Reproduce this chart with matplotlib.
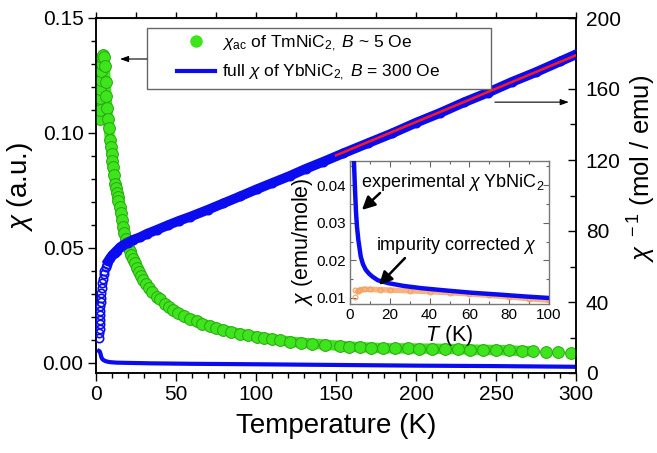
import numpy as np
import matplotlib
matplotlib.use("Agg")
import matplotlib.pyplot as plt
from matplotlib.lines import Line2D
from matplotlib.patches import Rectangle
from matplotlib.ticker import MultipleLocator

plt.rcParams['font.family'] = ['Liberation Sans', 'DejaVu Sans']
plt.rcParams['mathtext.fontset'] = 'custom'
plt.rcParams['mathtext.rm'] = 'Liberation Sans'
plt.rcParams['mathtext.it'] = 'Liberation Sans:italic'
plt.rcParams['mathtext.bf'] = 'Liberation Sans:bold'

# ---- data: chi_ac of TmNiC2 (left axis, a.u.)
T_ac = [2.4, 2.5, 2.6, 2.8, 3.0, 3.3, 3.6, 4.0, 4.5, 5.0, 5.5, 6.0, 6.5, 7.0, 7.5, 8.0,
        8.75, 9.3, 9.8, 10.3, 10.8, 11.4, 12.0, 12.5, 13.0, 13.5, 14.0, 14.7, 15.5, 16.2,
        17.0, 17.7, 18.5, 19.2, 20.0, 21.0, 22.0, 23.2, 24.4, 25.7, 27.0, 28.3, 29.6,
        31.0, 33.0, 35.0, 37.9, 40.0, 43.0, 45.5, 48.3, 51.0, 55.0, 58.5, 62.9, 66.5,
        71.0, 75.0, 79.6, 84.5, 90.0, 95.0, 100.4, 105.0, 110.0, 115.0, 121.0, 128.0,
        135.0, 143.0, 152.5, 158.0, 165.0, 172.0, 179.6, 187.0, 195.0, 202.0, 210.0,
        218.0, 226.0, 234.0, 242.0, 250.0, 258.0, 266.0, 273.0, 281.0, 289.0, 297.0]
chi_ac = [0.106, 0.110, 0.115, 0.119, 0.123, 0.127, 0.130, 0.133, 0.134, 0.133, 0.129,
          0.122, 0.116, 0.111, 0.106, 0.102, 0.097, 0.094, 0.091, 0.088, 0.085, 0.0815,
          0.078, 0.076, 0.074, 0.072, 0.0705, 0.068, 0.065, 0.062, 0.059, 0.0565, 0.054,
          0.052, 0.0505, 0.0487, 0.047, 0.045, 0.0433, 0.0413, 0.0395, 0.0377, 0.0361,
          0.0345, 0.0325, 0.0310, 0.0288, 0.0276, 0.0258, 0.0244, 0.0230, 0.0219, 0.0205,
          0.0193, 0.0180, 0.0171, 0.0160, 0.0151, 0.0143, 0.0135, 0.0127, 0.0120, 0.0114,
          0.0108, 0.0103, 0.0098, 0.0093, 0.0088, 0.0084, 0.0079, 0.0074, 0.0071, 0.0069,
          0.0066, 0.0064, 0.0063, 0.0063, 0.0062, 0.0062, 0.0061, 0.0060, 0.0058, 0.0057,
          0.0056, 0.0054, 0.0052, 0.0050, 0.0047, 0.0046, 0.0042]

# ---- data: full chi of YbNiC2 (left axis)
T_full = [1.8, 2.3, 2.8, 3.3, 3.8, 4.5, 5.5, 6.7, 9.0, 13.0, 20.0, 35.0, 60.0, 100.0,
          150.0, 200.0, 250.0, 300.0]
chi_full = [0.0052, 0.0050, 0.0040, 0.0026, 0.0018, 0.0013, 0.0009, 0.0006, 0.0003,
            0.0001, 0.0, -0.0002, -0.0004, -0.0006, -0.0009, -0.0012, -0.0014, -0.0017]

# ---- data: inverse chi of YbNiC2 (right axis, mol/emu)
T_inv = [2.0, 2.1, 2.2, 2.3, 2.4, 2.5, 2.6, 2.7, 2.85, 3.0, 3.2, 3.5, 3.8, 4.2, 4.7, 5.3,
         6.0, 6.8, 7.8, 9.0, 10.3, 11.7, 13.0, 15.0, 17.0, 20.0, 23.0, 27.5, 32.0, 37.9,
         45.0, 52.0, 58.75, 70.0, 79.6, 90.0, 100.4, 110.0, 121.0, 131.0, 142.0, 154.6,
         170.0, 185.0, 200.0, 215.0, 230.0, 245.0, 260.0, 275.0, 290.0, 300.0]
inv_chi = [20.0, 22.5, 25.0, 27.5, 30.0, 32.5, 35.0, 37.5, 40.0, 42.5, 45.0, 48.0, 50.5,
           53.0, 55.5, 57.5, 59.5, 61.5, 63.3, 65.0, 66.5, 67.8, 69.0, 70.8, 72.1, 73.5,
           75.0, 76.5, 78.5, 80.6, 83.3, 85.8, 88.0, 92.0, 95.6, 99.5, 103.5, 107.0,
           111.0, 115.0, 119.0, 123.8, 129.5, 135.0, 141.0, 146.5, 152.5, 158.0, 164.0,
           169.5, 175.5, 179.5]

# ---- data: linear (Curie-Weiss) fit
T_fit = [150.0, 300.0]
inv_fit = [122.6, 179.0]

# ---- inset data
T_exp = [2.0, 2.5, 3.0, 3.5, 4.2, 5.4, 6.5, 7.9, 9.5, 11.2, 14.0, 19.6, 27.0, 36.0, 48.0,
         61.0, 75.0, 88.0, 100.0]
chi_exp = [0.0460, 0.0390, 0.0330, 0.0290, 0.0254, 0.0210, 0.0190, 0.0175, 0.0165,
           0.0157, 0.0147, 0.0139, 0.0132, 0.0126, 0.0120, 0.0114, 0.0109, 0.0104, 0.0100]
T_cor = [2.5, 2.5, 4.0, 5.0, 7.0, 10.0, 15.0, 20.0, 30.0, 40.0, 50.0, 60.0, 70.0, 80.0,
         90.0, 100.0]
chi_cor = [0.0102, 0.0121, 0.0118, 0.0122, 0.0123, 0.0123, 0.0122, 0.0121, 0.0119,
           0.0117, 0.0114, 0.0111, 0.0107, 0.0103, 0.0098, 0.0094]

GREEN = '#3ee41c'
GREEN_E = '#2aa812'
BLUE = '#0b0bf0'
RED = '#ff1a1a'
ORANGE = '#f8b47e'
ORANGE_E = '#f3a062'

W, H = 657, 453
fig = plt.figure(figsize=(W / 100, H / 100), dpi=100)
ax = fig.add_axes([96 / W, 1 - 373 / H, 480 / W, 355 / H])
ax2 = ax.twinx()

# green chi_ac
ax.plot(T_ac[:-3], chi_ac[:-3], '-', color=GREEN, lw=7.5, zorder=2, solid_capstyle='round')
ax.plot(T_ac, chi_ac, 'o', ms=8.5, mfc=GREEN, mec=GREEN_E, mew=0.7, zorder=3)
# blue full chi
ax.plot(T_full, chi_full, '-', color=BLUE, lw=3, zorder=4)

ax.set_xlim(0, 300)
ax.set_ylim(-0.0044, 0.15)
ax.xaxis.set_major_locator(MultipleLocator(50))
ax.xaxis.set_minor_locator(MultipleLocator(10))
ax.yaxis.set_major_locator(MultipleLocator(0.05))
ax.yaxis.set_minor_locator(MultipleLocator(0.01))
ax.yaxis.set_major_formatter(matplotlib.ticker.FormatStrFormatter('%.2f'))
ax.tick_params(which='both', direction='out', labelsize=15, width=1, top=False, right=False)
ax.tick_params(which='major', length=6, pad=3)
ax.tick_params(which='minor', length=3.5)
for s in ax.spines.values():
    s.set_linewidth(1.1)

sec = ax.secondary_xaxis('top')
sec.xaxis.set_major_locator(MultipleLocator(25))
sec.tick_params(which='major', direction='out', length=4, width=1, labeltop=False)
sec.xaxis.set_minor_locator(matplotlib.ticker.NullLocator())

# inverse chi (right axis)
Ti = np.array(T_inv)
vi = np.array(inv_chi)
hi = Ti >= 7.8
ax2.plot(Ti[hi], vi[hi], '-', color=BLUE, lw=7, zorder=2)
ax2.plot(Ti, vi, 'o', ms=6, mfc='none', mec=BLUE, mew=1.2, zorder=3)
ax2.plot(T_fit, inv_fit, '-', color=RED, lw=1.8, zorder=4)
ax2.set_ylim(0, 200)
ax2.yaxis.set_major_locator(MultipleLocator(40))
ax2.yaxis.set_minor_locator(MultipleLocator(20))
ax2.tick_params(which='both', direction='in', labelsize=15, width=1)
ax2.tick_params(which='major', length=6, pad=7)
ax2.tick_params(which='minor', length=4)
for s in ax2.spines.values():
    s.set_linewidth(1.1)

# axis labels
ax.set_xlabel('Temperature (K)', fontsize=20, labelpad=6)
ax.text(-0.158, 0.524, r'$\chi$ (a.u.)', transform=ax.transAxes, rotation=90,
        ha='center', va='center', fontsize=20)
ax2.text(1.138, 0.575, r'$\chi^{\ -1}$ (mol / emu)', transform=ax2.transAxes, rotation=90,
         ha='center', va='center', fontsize=18.5)

# legend with frame rectangle
rect = Rectangle((0.10625, 0.80), 0.7167, 0.1718, transform=ax2.transAxes,
                 facecolor='white', edgecolor='#666666', lw=1.0, zorder=10)
ax2.add_patch(rect)
handles = [Line2D([], [], ls='none', marker='o', ms=8, mfc=GREEN, mec=GREEN),
           Line2D([], [], color=BLUE, lw=3)]
labels = [r'$\chi_{\rm ac}$ of TmNiC$_{2,}$ $B$ ~ 5 Oe',
          r'full $\chi$ of YbNiC$_{2,}$ $B$ = 300 Oe']
leg = ax2.legend(handles, labels, loc='upper left', bbox_to_anchor=(0.169, 0.957),
                 frameon=False, fontsize=12.5, handlelength=2.2, handletextpad=0.4,
                 borderpad=0, borderaxespad=0, labelspacing=0.55)
leg.set_zorder(11)

# pointer arrows
ax2.annotate('', xy=(0.05, 0.8845), xytext=(0.106, 0.8845), xycoords='axes fraction',
             textcoords='axes fraction',
             arrowprops=dict(arrowstyle='-|>,head_length=0.5,head_width=0.18', color='black',
                             lw=0.8, mutation_scale=10, shrinkA=0, shrinkB=0), zorder=12)
ax2.annotate('', xy=(0.985, 0.763), xytext=(0.831, 0.763), xycoords='axes fraction',
             textcoords='axes fraction',
             arrowprops=dict(arrowstyle='-|>,head_length=0.5,head_width=0.18', color='black',
                             lw=0.8, mutation_scale=10, shrinkA=0, shrinkB=0), zorder=12)

# ---- inset
axi = fig.add_axes([350 / W, 1 - 304 / H, 199 / W, 143 / H])
axi.plot(T_cor[2:], chi_cor[2:], '-', color=ORANGE, lw=4, zorder=2)
axi.plot(T_cor, chi_cor, 'o', ms=3.5, mfc='none', mec=ORANGE_E, mew=0.8, zorder=2)
axi.plot(T_exp, chi_exp, '-', color=BLUE, lw=3.2, zorder=3)
axi.set_xlim(0, 100)
axi.set_ylim(0.0084, 0.0464)
axi.xaxis.set_major_locator(MultipleLocator(20))
axi.xaxis.set_minor_locator(MultipleLocator(10))
axi.yaxis.set_major_locator(MultipleLocator(0.01))
axi.yaxis.set_minor_locator(MultipleLocator(0.005))
axi.tick_params(which='both', direction='in', top=True, right=True, labelsize=11,
                color='#666666', width=0.8, pad=3)
axi.tick_params(which='major', length=4)
axi.tick_params(which='minor', length=2.5)
for s in axi.spines.values():
    s.set_color('#777777')
    s.set_linewidth(1.0)
axi.set_xlabel(r'$T$ (K)', fontsize=15.5)
axi.xaxis.set_label_coords(0.5, -0.135)
axi.set_ylabel(r'$\chi$ (emu/mole)', fontsize=15.5)
axi.yaxis.set_label_coords(-0.176, 0.434)

axi.text(5.5, 0.0395, r'experimental $\chi$ YbNiC$_2$', fontsize=13, va='baseline', ha='left')
axi.text(13.1, 0.0227, r'impurity corrected $\chi$', fontsize=13, va='baseline', ha='left')
ap = dict(arrowstyle='-|>,head_length=0.6,head_width=0.3', color='black', lw=1.8,
          mutation_scale=13, shrinkA=0, shrinkB=0)
axi.annotate('', xy=(6.0, 0.0334), xytext=(15.1, 0.0379), arrowprops=ap)
axi.annotate('', xy=(14.6, 0.01345), xytext=(27.6, 0.0206), arrowprops=ap)

fig.savefig('out.png', dpi=100)
